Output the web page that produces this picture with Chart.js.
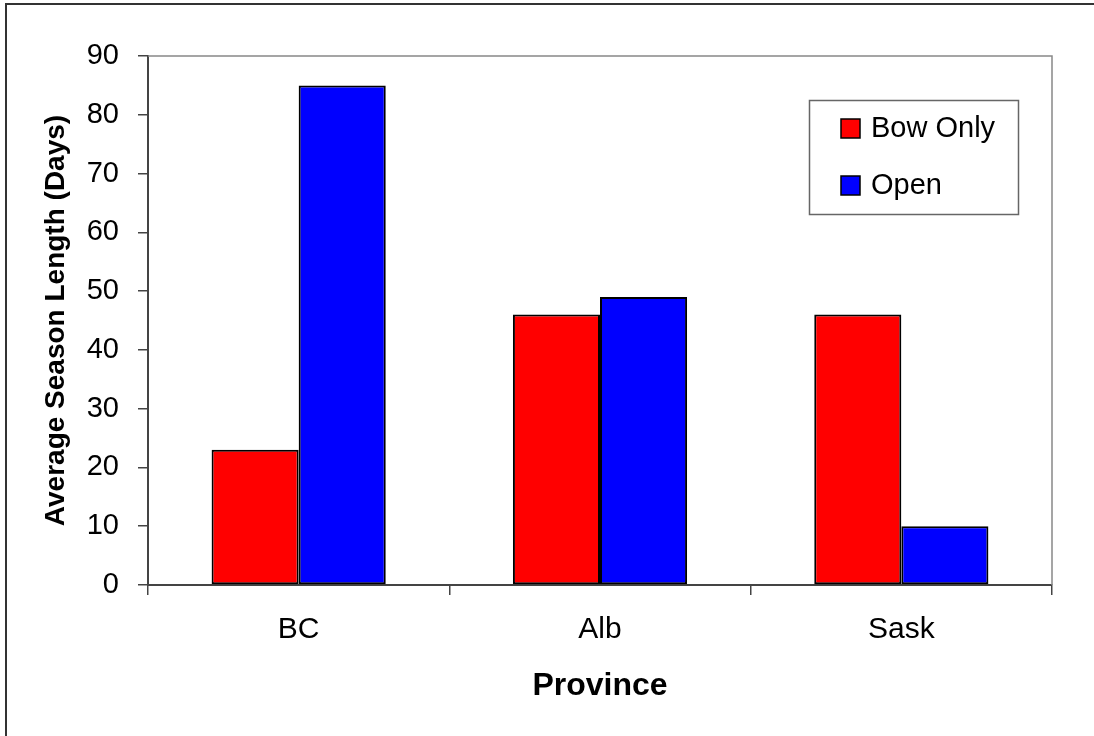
<!DOCTYPE html>
<html>
<head>
<meta charset="utf-8">
<script src="https://cdn.jsdelivr.net/npm/chart.js@4.4.1/dist/chart.umd.min.js"></script>
<style>
  body { margin: 0; background: #fff; }
  #wrap { width: 1094px; height: 736px; position: relative; }
</style>
</head>
<body>
<div id="wrap"><canvas id="seasonChart"></canvas></div>

<script>
// season length by province, in days
var provinces = ["BC", "Alb", "Sask"];
var bowOnly = [23, 46, 46];
var openSeason = [85, 49, 10];
var yTicks = [0, 10, 20, 30, 40, 50, 60, 70, 80, 90];

var fontFamily = "'Liberation Sans', Arial, sans-serif";

// outer frame, plot box and the boxed legend inside the plot
var framePlugin = {
	id: 'frame',
	beforeDraw: function(chart) {
		var ctx = chart.ctx;
		ctx.save();
		ctx.fillStyle = '#fff';
		ctx.fillRect(0, 0, chart.width, chart.height);
		ctx.strokeStyle = '#333';
		ctx.lineWidth = 2;
		ctx.beginPath();
		ctx.moveTo(6, chart.height);
		ctx.lineTo(6, 4);
		ctx.lineTo(chart.width, 4);
		ctx.stroke();
		ctx.restore();
	},
	afterDraw: function(chart) {
		var ctx = chart.ctx;
		var a = chart.chartArea;
		ctx.save();
		ctx.strokeStyle = '#888';
		ctx.lineWidth = 1.5;
		ctx.beginPath();
		ctx.moveTo(a.left, a.top);
		ctx.lineTo(a.right, a.top);
		ctx.lineTo(a.right, a.bottom);
		ctx.stroke();

		// legend
		ctx.strokeStyle = '#666';
		ctx.lineWidth = 1.5;
		ctx.strokeRect(809.5, 100.5, 209, 114);
		ctx.font = '29px ' + fontFamily;
		ctx.textBaseline = 'middle';
		ctx.textAlign = 'left';
		chart.data.datasets.forEach(function(ds, i) {
			var y = 119 + i * 57;
			ctx.fillStyle = ds.backgroundColor;
			ctx.fillRect(841, y, 19, 19);
			ctx.strokeStyle = '#000';
			ctx.lineWidth = 1.5;
			ctx.strokeRect(841, y, 19, 19);
			ctx.fillStyle = '#000';
			ctx.fillText(ds.label, 871, y + 10);
		});
		ctx.restore();
	}
};

var config = {
	type: 'bar',
	data: {
		labels: provinces,
		datasets: [{
			label: "Bow Only",
			data: bowOnly,
			backgroundColor: '#ff0000',
			borderColor: '#000',
			borderWidth: 2,
			borderSkipped: false
		}, {
			label: "Open",
			data: openSeason,
			backgroundColor: '#0000ff',
			borderColor: '#000',
			borderWidth: 2,
			borderSkipped: false
		}]
	},
	options: {
		responsive: true,
		maintainAspectRatio: false,
		animation: false,
		layout: { padding: { left: 0, top: 56, right: 42, bottom: 0 } },
		datasets: {
			bar: { categoryPercentage: 0.578, barPercentage: 1 }
		},
		plugins: {
			legend: { display: false },
			tooltip: { enabled: false }
		},
		scales: {
			x: {
				grid: {
					offset: true,
					drawOnChartArea: false,
					drawTicks: true,
					tickLength: 10,
					color: '#444',
					lineWidth: 1.5
				},
				border: { display: true, color: '#444', width: 2 },
				ticks: {
					color: '#000',
					padding: 17,
					font: { family: fontFamily, size: 30 }
				},
				title: {
					display: true,
					text: "Province",
					color: '#000',
					padding: { top: 31, bottom: 31 },
					font: { family: fontFamily, size: 32, weight: 'bold' }
				},
				afterFit: function(scale) { scale.height = 151; }
			},
			y: {
				min: 0,
				max: 90,
				afterBuildTicks: function(scale) {
					scale.ticks = yTicks.map(function(v) { return { value: v }; });
				},
				grid: {
					drawOnChartArea: false,
					drawTicks: true,
					tickLength: 10,
					color: '#444',
					lineWidth: 1.5
				},
				border: { display: true, color: '#444', width: 2 },
				ticks: {
					color: '#000',
					padding: 19,
					font: { family: fontFamily, size: 29 }
				},
				title: {
					display: true,
					text: "Average Season Length (Days)",
					color: '#000',
					padding: { top: 39, bottom: 0 },
					font: { family: fontFamily, size: 28, weight: 'bold' }
				},
				afterFit: function(scale) { scale.width = 148; }
			}
		}
	},
	plugins: [framePlugin]
};

var seasonChart = new Chart(document.getElementById('seasonChart').getContext('2d'), config);
</script>
</body>
</html>
